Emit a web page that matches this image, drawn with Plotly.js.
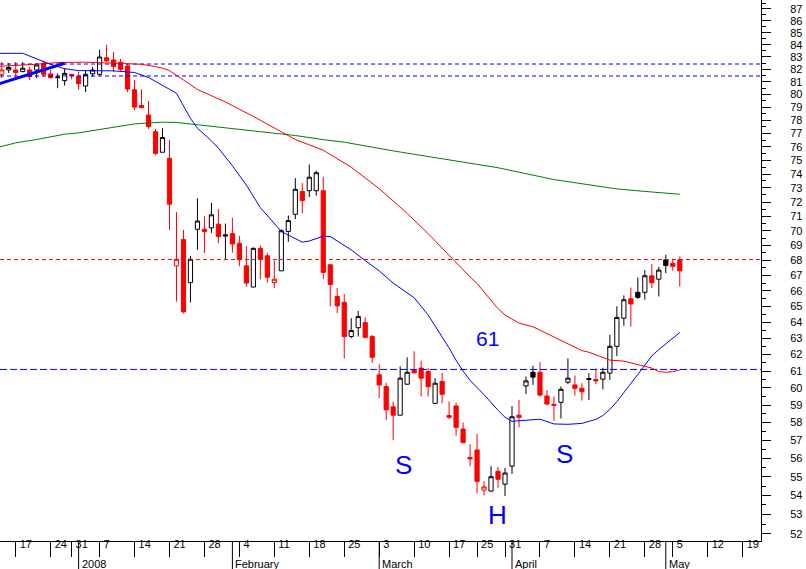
<!DOCTYPE html>
<html><head><meta charset="utf-8">
<script src="https://cdn.plot.ly/plotly-3.0.1.min.js"></script>
<style>html,body{margin:0;padding:0;background:#fff;}#chart{width:806px;height:569px;}</style>
</head><body><div id="chart"></div>
<script>
// ---- calendar (exchange holidays) ----
const holidays = ['2007-12-25','2007-12-26','2008-01-01','2008-03-21','2008-03-24','2008-05-01'];
const calendarStart = '2007-12-12';
const calendarEnd = '2008-05-23';

// ---- daily candles ----
const dates = ['2007-12-13','2007-12-14','2007-12-17','2007-12-18','2007-12-19','2007-12-20','2007-12-21','2007-12-24','2007-12-27','2007-12-28','2007-12-31',
'2008-01-02','2008-01-03','2008-01-04','2008-01-07','2008-01-08','2008-01-09','2008-01-10','2008-01-11','2008-01-14','2008-01-15','2008-01-16','2008-01-17','2008-01-18','2008-01-21','2008-01-22','2008-01-23','2008-01-24','2008-01-25','2008-01-28','2008-01-29','2008-01-30','2008-01-31','2008-02-01',
'2008-02-04','2008-02-05','2008-02-06','2008-02-07','2008-02-08','2008-02-11','2008-02-12','2008-02-13','2008-02-14','2008-02-15','2008-02-18','2008-02-19','2008-02-20','2008-02-21','2008-02-22','2008-02-25','2008-02-26','2008-02-27','2008-02-28','2008-02-29',
'2008-03-03','2008-03-04','2008-03-05','2008-03-06','2008-03-07','2008-03-10','2008-03-11','2008-03-12','2008-03-13','2008-03-14','2008-03-17','2008-03-18','2008-03-19','2008-03-20','2008-03-25','2008-03-26','2008-03-27','2008-03-28','2008-03-31',
'2008-04-01','2008-04-02','2008-04-03','2008-04-04','2008-04-07','2008-04-08','2008-04-09','2008-04-10','2008-04-11','2008-04-14','2008-04-15','2008-04-16','2008-04-17','2008-04-18','2008-04-21','2008-04-22','2008-04-23','2008-04-24','2008-04-25','2008-04-28','2008-04-29','2008-04-30','2008-05-02','2008-05-05','2008-05-06'];
const open = [81.6,81.95,81.95,81.82,81.95,81.95,82.5,81.63,81.33,81.1,81.6,
81.44,80.67,81.65,81.6,82.94,82.76,82.57,82.28,80.38,79.15,78.41,77.14,75.6,75.15,67.63,69.4,66.53,70.1,70.1,70.2,70.45,69.72,69.8,
69.15,67.63,66.24,68.8,68.3,66.53,67.3,69.95,71.14,72.75,72.8,72.8,72.8,67.7,65.63,65.25,63.1,63.65,63.97,63.1,
60.78,60.08,58.9,58.42,60.22,61.05,61.18,60.98,59.1,60.38,58.4,58.95,57.63,56.05,56.46,54.28,54.23,55.29,54.6,
55.57,58.42,60.12,60.93,60.93,59.53,59.05,59.16,60.34,60.18,59.98,60.5,60.5,60.52,60.88,62.5,64.25,65.48,65.9,65.9,66.97,66.75,68.03,67.8,68.03];
const high = [82.6,82.5,82.6,82.57,82.2,82.5,82.7,81.95,81.68,82.09,81.62,
81.82,81.95,82.2,83.6,84.0,83.4,82.85,82.45,81.15,80.4,79.5,77.35,77.4,76.5,71.3,70.05,68.3,72.26,71.0,71.95,71.5,70.5,70.9,
69.65,68.95,68.87,69.0,68.5,67.98,70.1,71.05,73.7,73.35,74.7,74.25,73.8,67.76,66.17,65.8,64.25,64.7,64.3,63.2,
61.4,60.3,59.2,61.28,61.83,62.2,61.63,61.18,60.58,60.9,59.2,59.15,58.0,56.78,57.35,54.75,55.57,55.52,55.47,
58.95,59.3,60.68,61.33,61.53,59.88,59.5,60.08,61.77,60.74,60.28,60.88,61.14,61.2,63.2,65.0,65.7,66.2,66.86,67.35,67.76,67.57,68.37,68.1,68.25];
const low = [81.3,81.7,81.4,81.77,81.15,81.3,81.4,81.28,80.5,80.7,81.2,
80.38,80.2,81.4,81.5,82.6,81.8,81.87,80.2,78.8,78.95,77.35,75.4,75.6,70.05,65.3,64.55,65.25,68.7,68.5,69.85,69.15,68.05,68.5,
67.6,66.27,66.24,66.75,66.53,66.17,67.3,69.25,70.8,71.2,72.35,72.45,66.75,65.0,64.57,61.75,63.0,63.1,63.0,61.5,
59.4,58.15,57.0,58.42,60.2,60.88,59.5,59.5,59.1,59.1,58.22,57.26,56.83,55.57,54.12,54.0,54.2,54.4,53.97,
55.15,57.73,59.65,60.18,59.5,59.0,58.1,58.23,60.22,59.55,59.26,59.3,60.22,59.92,60.48,61.9,63.77,63.72,65.47,65.42,66.17,65.63,67.15,67.3,66.27];
const close = [81.95,82.15,81.75,82.09,81.41,82.36,81.6,81.33,81.38,81.68,81.5,
80.86,81.6,81.95,83.0,82.68,82.22,82.0,80.43,79.02,78.98,77.52,75.52,76.7,71.85,68.07,64.65,68.07,70.67,69.95,71.1,69.6,69.65,69.1,
68.05,66.5,68.8,68.07,66.88,66.75,70.0,70.7,72.9,72.1,73.77,74.1,67.2,66.4,65.03,63.1,63.48,64.35,63.05,61.83,
60.18,58.73,58.42,60.58,60.93,60.9,60.58,60.08,60.28,59.63,58.3,57.73,56.87,55.97,54.75,54.45,55.0,54.86,55.2,
58.33,58.3,60.42,60.64,59.58,59.06,58.98,59.92,60.58,59.98,59.78,60.55,60.42,60.93,62.5,64.3,65.42,65.15,65.57,66.98,66.53,67.35,67.65,67.6,67.3];
const priorClose = 82.2;

// ---- moving averages ----
const blueDates = ['2007-12-12','2007-12-13','2007-12-18','2007-12-20','2007-12-24','2007-12-28','2008-01-02','2008-01-09','2008-01-14','2008-01-16','2008-01-18','2008-01-22','2008-01-24','2008-01-25','2008-01-29','2008-01-30','2008-02-01','2008-02-04','2008-02-05','2008-02-07','2008-02-08','2008-02-12','2008-02-13','2008-02-15','2008-02-18','2008-02-19','2008-02-20','2008-02-21','2008-02-22','2008-02-26','2008-02-28','2008-03-03','2008-03-05','2008-03-07','2008-03-10','2008-03-12','2008-03-13','2008-03-17','2008-03-18','2008-03-19','2008-03-20','2008-03-26','2008-03-28','2008-03-31','2008-04-01','2008-04-03','2008-04-07','2008-04-09','2008-04-11','2008-04-15','2008-04-16','2008-04-17','2008-04-18','2008-04-21','2008-04-22','2008-04-23','2008-04-24','2008-04-25','2008-04-28','2008-04-29','2008-04-30','2008-05-02','2008-05-05','2008-05-06'];
const blueMA = [83.3,83.3,83.3,82.85,82.4,82.05,81.9,81.88,81.75,81.35,80.75,80.1,78.15,77.4,76.45,75.9,74.6,73.94,73.2,71.6,71.05,69.95,69.7,69.22,69.3,69.49,69.63,69.6,69.3,68.7,67.98,67.3,66.5,65.9,65.55,64.45,63.78,62.4,61.65,61.0,60.45,59.6,58.7,58.3,58.07,58.15,58.19,57.92,57.9,57.95,58.05,58.18,58.4,58.75,59.2,59.75,60.28,60.8,61.35,61.92,62.3,62.65,63.05,63.35];
const redDates = ['2007-12-12','2007-12-19','2007-12-21','2007-12-27','2007-12-28','2008-01-03','2008-01-08','2008-01-14','2008-01-15','2008-01-17','2008-01-18','2008-01-21','2008-01-22','2008-01-23','2008-01-25','2008-01-31','2008-02-06','2008-02-12','2008-02-14','2008-02-18','2008-02-20','2008-02-22','2008-02-26','2008-03-03','2008-03-07','2008-03-12','2008-03-13','2008-03-18','2008-03-19','2008-03-20','2008-03-25','2008-03-26','2008-03-27','2008-03-28','2008-03-31','2008-04-02','2008-04-04','2008-04-07','2008-04-08','2008-04-10','2008-04-11','2008-04-15','2008-04-16','2008-04-18','2008-04-21','2008-04-23','2008-04-24','2008-04-28','2008-04-29','2008-04-30','2008-05-02','2008-05-05','2008-05-06'];
const redMA = [82.22,82.35,82.45,82.55,82.57,82.58,82.52,82.43,82.41,82.22,82.1,81.9,81.5,81.15,80.4,79.42,78.3,77.15,76.55,76.15,75.75,75.12,74.5,72.95,71.2,69.8,69.3,67.83,67.35,66.9,66.47,65.92,65.38,64.85,64.45,63.94,63.71,63.5,63.3,62.85,62.63,62.24,62.14,61.8,61.66,61.6,61.49,61.3,61.18,60.97,60.93,60.97,61.07];
const greenDates = ['2007-12-12','2007-12-17','2007-12-20','2007-12-24','2007-12-28','2008-01-02','2008-01-07','2008-01-10','2008-01-14','2008-01-16','2008-01-18','2008-01-22','2008-01-25','2008-02-05','2008-02-14','2008-02-20','2008-02-25','2008-03-05','2008-03-17','2008-03-28','2008-04-09','2008-04-14','2008-04-17','2008-04-22','2008-04-28','2008-05-02','2008-05-06'];
const greenMA = [75.9,76.3,76.55,76.77,76.95,77.05,77.32,77.58,77.73,77.8,77.86,77.84,77.67,77.3,76.85,76.54,76.35,75.7,75.03,74.46,73.6,73.38,73.13,72.93,72.75,72.63,72.55];

// ---- drawn lines ----
const trendDates = ['2007-12-12','2007-12-28'];
const trendValues = [80.74, 82.49];
const resistanceLevels = [82.43, 81.47];
const targetLevels = [68.05];
const necklineLevels = [61.1];

// ---- axis labels ----
const tickDates = ['2007-12-17','2007-12-24','2007-12-31','2008-01-07','2008-01-14','2008-01-21','2008-01-28','2008-02-04','2008-02-11','2008-02-18','2008-02-25','2008-03-03','2008-03-10','2008-03-17','2008-03-25','2008-03-31','2008-04-07','2008-04-14','2008-04-21','2008-04-28','2008-05-05','2008-05-12','2008-05-19'];
const monthStarts = ['2008-01-02','2008-02-01','2008-03-03','2008-04-01','2008-05-02'];
const monthLabels = ['2008','February','March','April','May'];
const yTicks = [52,53,54,55,56,57,58,59,60,61,62,63,64,65,66,67,68,69,70,71,72,73,74,75,76,77,78,79,80,81,82,83,84,85,86,87];
const yMinorTicks = yTicks.map(v => v + 0.5);
const patternLabels = ['S','H','S','61'];

// ---- build ----
function businessDays(start, end, skip) {
  const out = [];
  const d = new Date(start + 'T00:00:00Z');
  const e = new Date(end + 'T00:00:00Z');
  while (d <= e) {
    const w = d.getUTCDay();
    const s = d.toISOString().slice(0, 10);
    if (w !== 0 && w !== 6 && skip.indexOf(s) < 0) out.push(s);
    d.setUTCDate(d.getUTCDate() + 1);
  }
  return out;
}
const calendar = businessDays(calendarStart, calendarEnd, holidays);
const pos = s => calendar.indexOf(s);
const xRange = [0.754, 109.62];

const groups = {black: {x:[],open:[],high:[],low:[],close:[]}, red: {x:[],open:[],high:[],low:[],close:[]}};
for (let i = 0; i < dates.length; i++) {
  const prev = i === 0 ? priorClose : close[i-1];
  const g = close[i] < prev ? groups.red : groups.black;
  g.x.push(pos(dates[i])); g.open.push(open[i]); g.high.push(high[i]); g.low.push(low[i]); g.close.push(close[i]);
}

function levelTrace(v, color, dash) {
  return {type:'scatter', mode:'lines', x:[xRange[0], xRange[1]], y:[v, v], line:{color:color, width:1, dash:dash}, hoverinfo:'skip'};
}
const traces = [];
resistanceLevels.forEach(v => traces.push(levelTrace(v, '#0000ff', '4px,3px')));
targetLevels.forEach(v => traces.push(levelTrace(v, '#ff0000', '4px,3px')));
necklineLevels.forEach(v => traces.push(levelTrace(v, '#0000ff', '7px,3px')));

traces.push({type:'candlestick', x:groups.black.x, open:groups.black.open, high:groups.black.high, low:groups.black.low, close:groups.black.close,
  increasing:{line:{color:'#000000', width:1}, fillcolor:'#ffffff'},
  decreasing:{line:{color:'#000000', width:1}, fillcolor:'#000000'}, whiskerwidth:0, hoverinfo:'skip'});
traces.push({type:'candlestick', x:groups.red.x, open:groups.red.open, high:groups.red.high, low:groups.red.low, close:groups.red.close,
  increasing:{line:{color:'#ff0000', width:1}, fillcolor:'#ffffff'},
  decreasing:{line:{color:'#ff0000', width:1}, fillcolor:'#ff0000'}, whiskerwidth:0, hoverinfo:'skip'});

traces.push({type:'scatter', mode:'lines', x:greenDates.map(pos), y:greenMA, line:{color:'#008000', width:1}, hoverinfo:'skip'});
traces.push({type:'scatter', mode:'lines', x:redDates.map(pos), y:redMA, line:{color:'#ff0000', width:1}, hoverinfo:'skip'});
traces.push({type:'scatter', mode:'lines', x:blueDates.map(pos), y:blueMA, line:{color:'#0000ff', width:1}, hoverinfo:'skip'});
traces.push({type:'scatter', mode:'lines', x:trendDates.map(pos), y:trendValues, line:{color:'#0000ff', width:3}, hoverinfo:'skip'});

const plotH = 541;
const annotations = [];
monthStarts.forEach((d, i) => annotations.push({xref:'x', yref:'paper', x:pos(d), y:-(564-plotH)/plotH, xanchor:'left', yanchor:'middle', xshift:1,
  text:monthLabels[i], showarrow:false, font:{family:'Liberation Sans, Arial, sans-serif', size:11, color:'#000'}}));
const patternPos = [[0.5306,0.1414,26],[0.6531,0.0481,26],[0.7420,0.1608,26],[0.6406,0.3734,21]];
patternLabels.forEach((t, i) => annotations.push({xref:'paper', yref:'paper', x:patternPos[i][0], y:patternPos[i][1], xanchor:'center', yanchor:'middle',
  text:t, showarrow:false, font:{family:'Liberation Sans, Arial, sans-serif', size:patternPos[i][2], color:'#0000ff'}}));

const shapes = monthStarts.map(d => ({type:'line', xref:'x', yref:'paper', x0:pos(d), x1:pos(d), y0:0, y1:-28/plotH, line:{color:'#000', width:1}}));

const layout = {
  width:806, height:569, margin:{l:0, r:45, t:0, b:28, pad:0},
  paper_bgcolor:'#ffffff', plot_bgcolor:'#ffffff', showlegend:false,
  boxgap:0.14, boxgroupgap:0.3,
  font:{family:'Liberation Sans, Arial, sans-serif', size:11, color:'#000'},
  xaxis:{type:'linear', range:xRange, showgrid:false, zeroline:false, showline:true, linecolor:'#000', linewidth:1,
    ticks:'outside', ticklen:15, tickwidth:1, tickcolor:'#000',
    tickvals:tickDates.map(pos), ticktext:tickDates.map(d => String(parseInt(d.slice(8), 10))),
    ticklabelposition:'outside right', ticklabelshift:3, ticklabelstandoff:-7, tickangle:0, tickfont:{size:11, color:'#000'},
    rangeslider:{visible:false}, fixedrange:true, automargin:false},
  yaxis:{type:'log', side:'right', range:[Math.log10(51.64), Math.log10(87.77)], showgrid:false, zeroline:false,
    showline:true, linecolor:'#000', linewidth:1, ticks:'outside', ticklen:9, tickwidth:1, tickcolor:'#000',
    tickvals:yTicks, ticktext:yTicks.map(String), ticklabelstandoff:17, tickfont:{size:11, color:'#000'},
    minor:{tickvals:yMinorTicks, ticks:'outside', ticklen:4, tickcolor:'#000', tickwidth:1, showgrid:false},
    fixedrange:true, automargin:false},
  shapes:shapes, annotations:annotations
};

Plotly.newPlot('chart', traces, layout, {staticPlot:true, displayModeBar:false});
</script></body></html>
